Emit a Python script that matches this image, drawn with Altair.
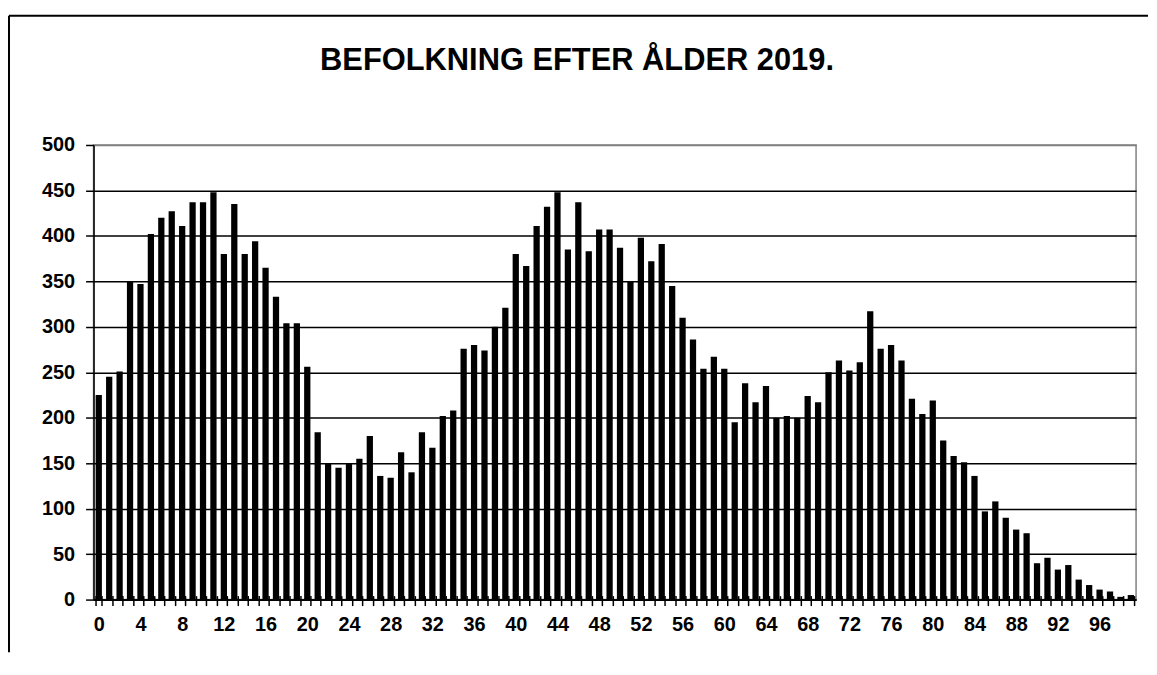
import altair as alt
import pandas as pd

title_text = "BEFOLKNING EFTER ÅLDER 2019."
ages = list(range(100))
population = [
    225, 245, 251, 350, 347, 402, 420, 427, 411, 437,
    437, 448, 380, 435, 380, 394, 365, 333, 304, 304,
    256, 184, 150, 145, 150, 155, 180, 136, 134, 162,
    140, 184, 167, 202, 208, 276, 280, 274, 300, 321,
    380, 367, 411, 432, 448, 385, 437, 383, 407, 407,
    387, 350, 398, 372, 391, 345, 310, 286, 254, 267,
    254, 195, 238, 217, 235, 200, 202, 200, 224, 217,
    250, 263, 252, 261, 317, 276, 280, 263, 221, 204,
    219, 175, 158, 151, 136, 97, 108, 90, 77, 73,
    40, 46, 33, 38, 22, 16, 11, 9, 3, 5,
]
y_ticks = list(range(0, 501, 50))

FONT = "Liberation Sans"
df = pd.DataFrame({"age": ages, "pop": population})

y_axis = alt.Axis(
    values=y_ticks, title=None, domainColor="black", domainWidth=1.5,
    tickColor="black", tickWidth=1.5, tickSize=8, labelFont=FONT,
    labelFontSize=20, labelFontWeight="bold", labelColor="black",
    labelPadding=11, grid=True,
    gridColor=alt.condition("datum.value === 500", alt.value("#808080"), alt.value("black")),
    gridWidth=1.6,
)
y_enc = alt.Y("pop:Q", scale=alt.Scale(domain=[0, 500], nice=False), axis=y_axis)

x_main = alt.X(
    "age:O",
    scale=alt.Scale(paddingInner=0.4, paddingOuter=0.2),
    axis=alt.Axis(
        title=None, labelAngle=0, labelOverlap=False,
        labelExpr="datum.value % 4 === 0 ? datum.label : ''",
        labelFont=FONT, labelFontSize=20, labelFontWeight="bold", labelColor="black",
        labelPadding=9, domainColor="black", domainWidth=1.5,
        ticks=True, tickBand="extent", tickSize=6, tickColor="black", tickWidth=1.5,
        grid=False,
    ),
)
x_stub = alt.X(
    "age:O",
    axis=alt.Axis(
        orient="bottom", offset=-4, title=None, labels=False, domain=False,
        ticks=True, tickBand="extent", tickSize=4, tickColor="black", tickWidth=1.5,
        grid=False,
    ),
)

bars = alt.Chart(df).mark_bar(color="black").encode(x=x_main, y=y_enc)
stubs = alt.Chart(df).mark_bar(opacity=0).encode(x=x_stub, y=y_enc)

one = pd.DataFrame({"k": [0]})
frame_top = alt.Chart(one).mark_rule(color="black", strokeWidth=2).encode(
    x=alt.value(-85), x2=alt.value(1060), y=alt.value(-130)
)
frame_left = alt.Chart(one).mark_rule(color="black", strokeWidth=2).encode(
    x=alt.value(-85), y=alt.value(-130), y2=alt.value(510)
)
title = alt.Chart(pd.DataFrame({"t": [title_text]})).mark_text(
    font=FONT, fontSize=31, fontWeight="bold", align="center", baseline="middle", color="black"
).encode(text="t:N", x=alt.value(486), y=alt.value(-84))

chart = (
    alt.layer(bars, stubs, frame_top, frame_left, title)
    .resolve_axis(x="independent")
    .properties(width=1048, height=457, padding={"left": 0, "top": 5, "right": 0, "bottom": 0},
                background="white")
    .configure_view(stroke="#808080", strokeWidth=1.5)
)
chart.save("out.html", embed_options={"renderer": "svg", "actions": False})
